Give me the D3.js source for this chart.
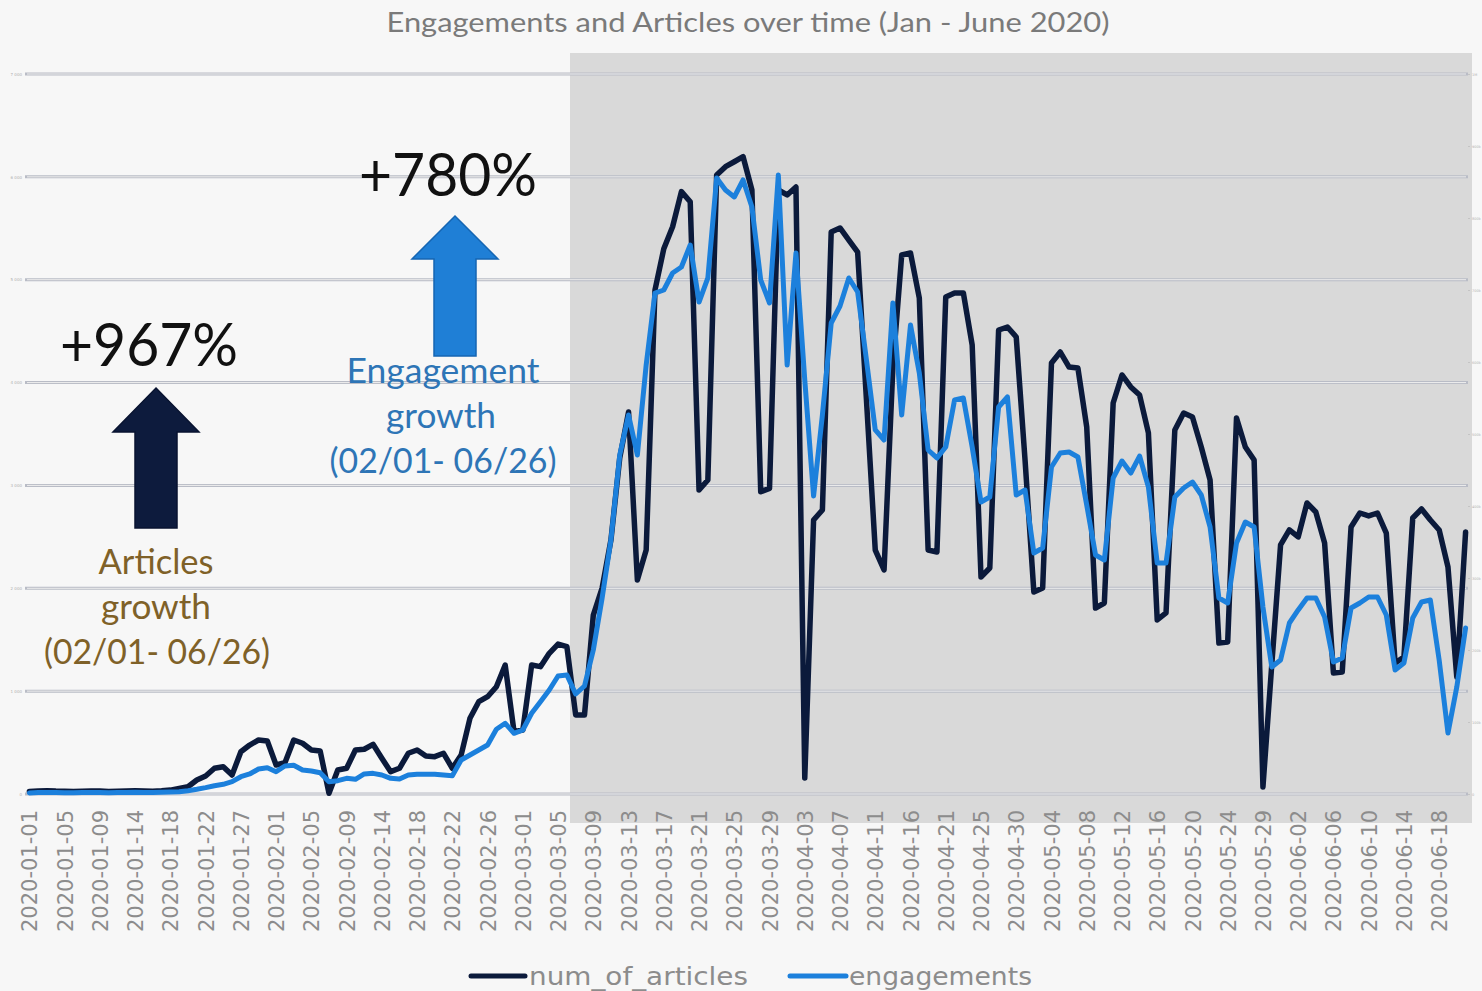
<!DOCTYPE html>
<html>
<head>
<meta charset="utf-8">
<script src="https://cdn.jsdelivr.net/npm/d3@7"></script>
<style>
  body { margin: 0; background: #f7f7f7; }
  svg { display: block; }
</style>
</head>
<body>
<div id="chart"></div>
<script>
// Categories (dates present in the data, some days are missing)
var categories = [
  "2020-01-01","2020-01-02","2020-01-03","2020-01-04","2020-01-05","2020-01-06","2020-01-07","2020-01-08",
  "2020-01-09","2020-01-10","2020-01-11","2020-01-13","2020-01-14","2020-01-15","2020-01-16","2020-01-17",
  "2020-01-18","2020-01-19","2020-01-20","2020-01-21","2020-01-22","2020-01-23","2020-01-24","2020-01-26",
  "2020-01-27","2020-01-28","2020-01-30","2020-01-31","2020-02-01","2020-02-02","2020-02-03","2020-02-04",
  "2020-02-05","2020-02-06","2020-02-07","2020-02-08","2020-02-09","2020-02-10","2020-02-11","2020-02-13",
  "2020-02-14","2020-02-15","2020-02-16","2020-02-17","2020-02-18","2020-02-19","2020-02-20","2020-02-21",
  "2020-02-22","2020-02-23","2020-02-24","2020-02-25","2020-02-26","2020-02-27","2020-02-28","2020-02-29",
  "2020-03-01","2020-03-02","2020-03-03","2020-03-04","2020-03-05","2020-03-06","2020-03-07","2020-03-08",
  "2020-03-09","2020-03-10","2020-03-11","2020-03-12","2020-03-13","2020-03-14","2020-03-15","2020-03-16",
  "2020-03-17","2020-03-18","2020-03-19","2020-03-20","2020-03-21","2020-03-22","2020-03-23","2020-03-24",
  "2020-03-25","2020-03-26","2020-03-27","2020-03-28","2020-03-29","2020-03-30","2020-03-31","2020-04-02",
  "2020-04-03","2020-04-04","2020-04-05","2020-04-06","2020-04-07","2020-04-08","2020-04-09","2020-04-10",
  "2020-04-11","2020-04-12","2020-04-14","2020-04-15","2020-04-16","2020-04-17","2020-04-18","2020-04-20",
  "2020-04-21","2020-04-22","2020-04-23","2020-04-24","2020-04-25","2020-04-26","2020-04-28","2020-04-29",
  "2020-04-30","2020-05-01","2020-05-02","2020-05-03","2020-05-04","2020-05-05","2020-05-06","2020-05-07",
  "2020-05-08","2020-05-09","2020-05-10","2020-05-11","2020-05-12","2020-05-13","2020-05-14","2020-05-15",
  "2020-05-16","2020-05-17","2020-05-18","2020-05-19","2020-05-20","2020-05-21","2020-05-22","2020-05-23",
  "2020-05-24","2020-05-25","2020-05-27","2020-05-28","2020-05-29","2020-05-30","2020-05-31","2020-06-01",
  "2020-06-02","2020-06-03","2020-06-04","2020-06-05","2020-06-06","2020-06-07","2020-06-08","2020-06-09",
  "2020-06-10","2020-06-11","2020-06-12","2020-06-13","2020-06-14","2020-06-15","2020-06-16","2020-06-17",
  "2020-06-18","2020-06-19","2020-06-20","2020-06-21"
];

// Labels shown on the x axis (every 4th category)
var tickLabels = [
  "2020-01-01","2020-01-05","2020-01-09","2020-01-14","2020-01-18","2020-01-22","2020-01-27",
  "2020-02-01","2020-02-05","2020-02-09","2020-02-14","2020-02-18","2020-02-22","2020-02-26",
  "2020-03-01","2020-03-05","2020-03-09","2020-03-13","2020-03-17","2020-03-21","2020-03-25","2020-03-29",
  "2020-04-03","2020-04-07","2020-04-11","2020-04-16","2020-04-21","2020-04-25","2020-04-30",
  "2020-05-04","2020-05-08","2020-05-12","2020-05-16","2020-05-20","2020-05-24","2020-05-29",
  "2020-06-02","2020-06-06","2020-06-10","2020-06-14","2020-06-18"
];

// num_of_articles (left axis)
var articles = [
  25, 30, 32, 28, 26, 24, 27, 30, 28, 25, 27, 30, 32, 29, 27, 31,
  38, 55, 71, 136, 175, 250, 265, 185, 411, 476, 525, 515, 282, 304, 525, 493,
  428, 418, 7, 233, 250, 428, 435, 483, 347, 217, 250, 396, 428, 369, 363, 396,
  250, 379, 736, 897, 946, 1043, 1254, 606, 622, 1254, 1238, 1368, 1458, 1432, 768, 768,
  1740, 2003, 2469, 3267, 3714, 2081, 2372, 4900, 5301, 5515, 5856, 5758, 2956, 3053, 6019, 6099,
  6147, 6196, 5872, 2939, 2972, 5872, 5824, 5901, 156, 2664, 2761, 5464, 5503, 5386, 5269, 3831,
  2372, 2178, 4151, 5240, 5260, 4822, 2372, 2353, 4832, 4871, 4871, 4365, 2110, 2197, 4511, 4540,
  4443, 3247, 1964, 2003, 4190, 4297, 4151, 4141, 3568, 1808, 1857, 3801, 4074, 3957, 3879, 3510,
  1692, 1760, 3539, 3704, 3665, 3374, 3053, 1468, 1478, 3656, 3374, 3247, 68, 1254, 2421, 2567,
  2499, 2829, 2742, 2440, 1176, 1186, 2596, 2732, 2703, 2732, 2537, 1274, 1332, 2683, 2771, 2664,
  2567, 2207, 1138, 2547
];

// engagements (right axis)
var engagements = [
  1500, 2000, 2200, 2000, 1800, 1700, 2000, 2200, 2100, 1900, 2000, 2200, 2300, 2100, 2000, 2300,
  2800, 3200, 4600, 6500, 8800, 11500, 13500, 17100, 24000, 27800, 34700, 36500, 31000, 38900, 39900, 33300,
  31900, 29600, 17100, 18500, 21800, 20400, 27800, 28700, 26400, 21800, 20800, 26400, 27400, 27400, 27400, 26400,
  25400, 47200, 54200, 61100, 68100, 89900, 98200, 84300, 88900, 112100, 128200, 144400, 163900, 165300, 138900, 150000,
  200000, 272200, 352800, 470800, 526400, 470800, 595800, 695800, 700000, 723600, 731900, 762500, 683300, 716700, 855600, 838900,
  829200, 852800, 815300, 713900, 681900, 859700, 595800, 751400, 575000, 413900, 526400, 654200, 677800, 716700, 697200, 602800,
  505600, 491700, 681900, 526400, 651400, 584700, 477800, 466700, 481900, 547200, 550000, 481900, 405600, 412500, 537500, 551400,
  415300, 422200, 334700, 341700, 454200, 473600, 475000, 468100, 401400, 331900, 325000, 438900, 462500, 445800, 469400, 426400,
  320800, 320800, 412500, 425000, 433300, 415300, 370800, 272200, 265300, 348600, 377800, 370800, 259700, 176400, 186100, 237500,
  255600, 272200, 272200, 245800, 183300, 188900, 258300, 265300, 273600, 273600, 248600, 172200, 181900, 244400, 266700, 269400,
  186100, 84700, 148600, 230600
];

var leftTicks = [0, 1000, 2000, 3000, 4000, 5000, 6000, 7000];
var rightTicks = [0, 100000, 200000, 300000, 400000, 500000, 600000, 700000, 800000, 900000, 1000000];

var W = 1482, H = 991;
var plot = { left: 25, right: 1470, top: 74, bottom: 794 };

var svg = d3.select("#chart")
    .append("svg")
    .attr("width", W)
    .attr("height", H);

svg.append("rect")
    .attr("width", W)
    .attr("height", H)
    .attr("fill", "#f7f7f7");

// Shaded period (from early March on)
svg.append("rect")
    .attr("x", 570)
    .attr("y", 53)
    .attr("width", 902)
    .attr("height", 770)
    .attr("fill", "#d9d9d9");

// Scales
var x = d3.scalePoint().domain(categories).range([plot.left, plot.right]).padding(0.5);
var yLeft = d3.scaleLinear().domain([0, 7000]).range([plot.bottom, plot.top]);
var yRight = d3.scaleLinear().domain([0, 1000000]).range([plot.bottom, plot.top]);

var fmt = function (d) { return d3.format(",")(d).replace(/,/g, " "); };

// Gridlines (left axis)
var grid = svg.append("g");
leftTicks.forEach(function (t) {
    grid.append("line")
        .attr("x1", plot.left).attr("x2", 1468)
        .attr("y1", yLeft(t)).attr("y2", yLeft(t))
        .attr("stroke", "#b9bcc6").attr("stroke-width", 3);
    grid.append("line")
        .attr("x1", plot.left + 2).attr("x2", 1466)
        .attr("y1", yLeft(t)).attr("y2", yLeft(t))
        .attr("stroke", "#eeeeee").attr("stroke-width", 1);
});

// Left axis (tiny labels)
var leftAxis = svg.append("g")
    .attr("transform", "translate(" + plot.left + ",0)")
    .call(d3.axisLeft(yLeft).tickValues(leftTicks).tickSize(0).tickPadding(3).tickFormat(fmt));
leftAxis.select(".domain").remove();
leftAxis.selectAll("text")
    .style("font-family", "DejaVu Sans")
    .style("font-size", "4px")
    .style("fill", "#b0b0b0");

// Right axis (tiny labels, SI format so they fit)
var rightAxis = svg.append("g")
    .attr("transform", "translate(1468,0)")
    .call(d3.axisRight(yRight).tickValues(rightTicks).tickSize(2).tickPadding(2)
        .tickFormat(d3.format("~s")));
rightAxis.select(".domain").remove();
rightAxis.selectAll("line").attr("stroke", "#c4c4c4");
rightAxis.selectAll("text")
    .style("font-family", "DejaVu Sans")
    .style("font-size", "3.5px")
    .style("fill", "#b0b0b0");

// X axis with rotated date labels
var xAxis = svg.append("g")
    .attr("transform", "translate(0," + plot.bottom + ")")
    .call(d3.axisBottom(x).tickValues(tickLabels).tickSize(0).tickPadding(0));
xAxis.select(".domain").remove();
xAxis.selectAll("text")
    .attr("transform", "rotate(-90)")
    .attr("x", -16)
    .attr("y", 0)
    .attr("dy", "0.36em")
    .style("text-anchor", "end")
    .style("font-family", "DejaVu Sans")
    .style("font-size", "21px")
    .style("fill", "#8c8c8c");

// Lines
var lineArticles = d3.line()
    .x(function (d, i) { return x(categories[i]); })
    .y(function (d) { return yLeft(d); });
var lineEng = d3.line()
    .x(function (d, i) { return x(categories[i]); })
    .y(function (d) { return yRight(d); });

svg.append("path")
    .datum(articles)
    .attr("d", lineArticles)
    .attr("fill", "none")
    .attr("stroke", "#0b1a3b")
    .attr("stroke-width", 5.5)
    .attr("stroke-linejoin", "round")
    .attr("stroke-linecap", "round");

svg.append("path")
    .datum(engagements)
    .attr("d", lineEng)
    .attr("fill", "none")
    .attr("stroke", "#1c80dc")
    .attr("stroke-width", 5)
    .attr("stroke-linejoin", "round")
    .attr("stroke-linecap", "round");

// Title
svg.append("text")
    .attr("x", 748)
    .attr("y", 32)
    .attr("text-anchor", "middle")
    .attr("textLength", 723)
    .attr("lengthAdjust", "spacingAndGlyphs")
    .style("font-family", "Lato")
    .style("font-size", "27px")
    .style("fill", "#7a7a7a")
    .text("Engagements and Articles over time (Jan - June 2020)");

// Arrows
function arrow(cx, tipY, headY, baseY, headHalf, shaftHalf, fill, stroke) {
    var p = [
        [cx, tipY], [cx + headHalf, headY], [cx + shaftHalf, headY], [cx + shaftHalf, baseY],
        [cx - shaftHalf, baseY], [cx - shaftHalf, headY], [cx - headHalf, headY]
    ];
    svg.append("path")
        .attr("d", "M" + p.join("L") + "Z")
        .attr("fill", fill)
        .attr("stroke", stroke)
        .attr("stroke-width", 1.5);
}
arrow(455, 216, 259, 356, 43, 21, "#1f7fd6", "#1666b3");
arrow(156, 388, 432, 528, 43, 21, "#0d1b3d", "#081330");

// Annotation texts
function label(txt, cx, y, size, width, color) {
    svg.append("text")
        .attr("x", cx)
        .attr("y", y)
        .attr("text-anchor", "middle")
        .attr("textLength", width)
        .attr("lengthAdjust", "spacingAndGlyphs")
        .style("font-family", "Lato")
        .style("font-size", size + "px")
        .style("fill", color)
        .text(txt);
}
label("+780%", 448, 196, 60, 178, "#111111");
label("+967%", 149, 366, 60, 178, "#111111");
label("Engagement", 443, 383, 35, 193, "#2e75b6");
label("growth", 441, 428, 35, 110, "#2e75b6");
label("(02/01- 06/26)", 443, 473, 35, 227, "#2e75b6");
label("Articles", 156, 574, 35, 115, "#7f6128");
label("growth", 156, 619, 35, 110, "#7f6128");
label("(02/01- 06/26)", 157, 664, 35, 226, "#7f6128");

// Legend
var legend = [
    { name: "num_of_articles", color: "#0b1a3b", x1: 471, x2: 525, tx: 529, tw: 219 },
    { name: "engagements", color: "#1c80dc", x1: 790, x2: 846, tx: 849, tw: 183 }
];
legend.forEach(function (l) {
    svg.append("line")
        .attr("x1", l.x1).attr("x2", l.x2)
        .attr("y1", 976).attr("y2", 976)
        .attr("stroke", l.color)
        .attr("stroke-width", 5)
        .attr("stroke-linecap", "round");
    svg.append("text")
        .attr("x", l.tx)
        .attr("y", 985)
        .attr("textLength", l.tw)
        .attr("lengthAdjust", "spacingAndGlyphs")
        .style("font-family", "DejaVu Sans")
        .style("font-size", "25px")
        .style("fill", "#8c8c8c")
        .text(l.name);
});
</script>
</body>
</html>
